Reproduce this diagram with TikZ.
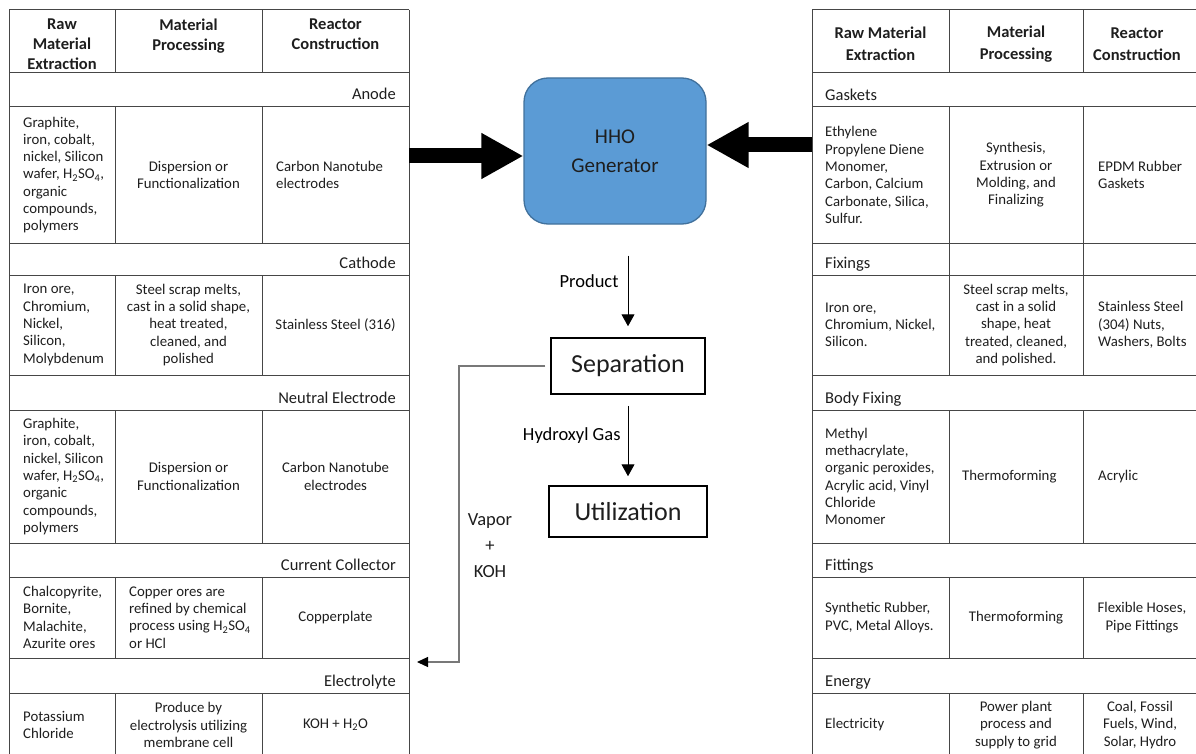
\documentclass[tikz,border=0pt]{standalone}
\usepackage{fontspec}
\setmainfont{Carlito}
\usetikzlibrary{arrows.meta,positioning}

\definecolor{hhoBlue}{RGB}{91,155,213}
\definecolor{hhoEdge}{RGB}{65,113,156}
\definecolor{tableLine}{RGB}{70,70,70}
\definecolor{textDark}{RGB}{30,30,30}
\definecolor{vaporGray}{RGB}{120,120,120}

\begin{document}
\begin{tikzpicture}[x=1pt, y=-1pt, text=textDark]
	\tikzstyle{gridLine} = [draw=tableLine, line width=1pt];
	\tikzstyle{cell} = [inner sep=0pt, font={\fontsize{14.8}{17.3}\selectfont}];
	\tikzstyle{cellLeft} = [cell, anchor=west, align=left];
	\tikzstyle{cellMid} = [cell, anchor=center, align=center];
	\tikzstyle{headLeft} = [inner sep=0pt, anchor=north, align=center, font={\bfseries\fontsize{16.5}{20}\selectfont}];
	\tikzstyle{headRight} = [inner sep=0pt, anchor=center, align=center, font={\bfseries\fontsize{16.5}{22}\selectfont}];
	\tikzstyle{rowTitle} = [inner sep=0pt, font={\fontsize{16.5}{18}\selectfont}];
	\tikzstyle{bigArrow} = [line width=15pt, -{Triangle[length=42pt, width=43pt]}];
	\tikzstyle{flowArrow} = [black, line width=1pt, -{Triangle[length=12pt, width=13pt]}];
	\tikzstyle{flowLabel} = [inner sep=0pt, font={\fontsize{18.5}{26}\selectfont}, align=center];
	\tikzstyle{stepBox} = [draw=black, line width=1.5pt, rectangle, inner sep=0pt, font={\fontsize{26}{30}\selectfont}];

	\useasboundingbox (0,0) rectangle (1196,754);

	% table rules
	\foreach \y in {10,73,107,243,275,375,410,543,577,658,693} {
		\draw[gridLine] (9,\y) -- (409,\y);
		\draw[gridLine] (812,\y) -- (1196,\y);
	}
	\draw[gridLine] (9,10) -- (9,754);
	\draw[gridLine] (409,10) -- (409,754);
	\draw[gridLine] (812,10) -- (812,754);
	\foreach \a/\b in {10/73,107/243,275/375,410/543,577/658,693/754} {
		\draw[gridLine] (115,\a) -- (115,\b);
		\draw[gridLine] (262,\a) -- (262,\b);
		\draw[gridLine] (949,\a) -- (949,\b);
		\draw[gridLine] (1083,\a) -- (1083,\b);
	}
	\draw[gridLine] (949,243) -- (949,275);
	\draw[gridLine] (1083,243) -- (1083,275);

	% left table
	\node[headLeft] (lHdRaw) at (62,19) {Raw\\Material\\Extraction};
	\node[headLeft] (lHdProc) at (188.5,19) {Material\\Processing};
	\node[headLeft] (lHdReac) at (335.5,19) {Reactor\\Construction};

	\node[rowTitle, anchor=base east] (anode) at (396,100) {Anode};
	\node[cellLeft] (anodeRaw) at (23,175) {Graphite,\\iron, cobalt,\\nickel, Silicon\\wafer, H\textsubscript{2}SO\textsubscript{4},\\organic\\compounds,\\polymers};
	\node[cellMid] (anodeProc) at (188.5,175) {Dispersion or\\Functionalization};
	\node[cellLeft] (anodeReac) at (276,175) {Carbon Nanotube\\electrodes};

	\node[rowTitle, anchor=base east] (cathode) at (396,268) {Cathode};
	\node[cellLeft] (cathodeRaw) at (23,325) {Iron ore,\\Chromium,\\Nickel,\\Silicon,\\Molybdenum};
	\node[cellMid] (cathodeProc) at (188.5,325) {Steel scrap melts,\\cast in a solid shape,\\heat treated,\\cleaned, and\\polished};
	\node[cellMid] (cathodeReac) at (335.5,325) {Stainless Steel (316)};

	\node[rowTitle, anchor=base east] (neutral) at (396,403) {Neutral Electrode};
	\node[cellLeft] (neutralRaw) at (23,476.5) {Graphite,\\iron, cobalt,\\nickel, Silicon\\wafer, H\textsubscript{2}SO\textsubscript{4},\\organic\\compounds,\\polymers};
	\node[cellMid] (neutralProc) at (188.5,476.5) {Dispersion or\\Functionalization};
	\node[cellMid] (neutralReac) at (335.5,476.5) {Carbon Nanotube\\electrodes};

	\node[rowTitle, anchor=base east] (collector) at (396,570) {Current Collector};
	\node[cellLeft] (collectorRaw) at (23,617.5) {Chalcopyrite,\\Bornite,\\Malachite,\\Azurite ores};
	\node[cellLeft] (collectorProc) at (129,617.5) {Copper ores are\\refined by chemical\\process using H\textsubscript{2}SO\textsubscript{4}\\or HCl};
	\node[cellMid] (collectorReac) at (335.5,617.5) {Copperplate};

	\node[rowTitle, anchor=base east] (electrolyte) at (396,686) {Electrolyte};
	\node[cellLeft] (electrolyteRaw) at (23,725) {Potassium\\Chloride};
	\node[cellMid] (electrolyteProc) at (188.5,725) {Produce by\\electrolysis utilizing\\membrane cell};
	\node[cellMid] (electrolyteReac) at (335.5,725) {KOH + H\textsubscript{2}O};

	% right table
	\node[headRight] (rHdRaw) at (880.5,44) {Raw Material\\Extraction};
	\node[headRight] (rHdProc) at (1016,44) {Material\\Processing};
	\node[headRight] (rHdReac) at (1137,44) {Reactor\\Construction};

	\node[rowTitle, anchor=base west] (gaskets) at (825,101) {Gaskets};
	\node[cellLeft] (gasketsRaw) at (825,175) {Ethylene\\Propylene Diene\\Monomer,\\Carbon, Calcium\\Carbonate, Silica,\\Sulfur.};
	\node[cellMid] (gasketsProc) at (1016,175) {Synthesis,\\Extrusion or\\Molding, and\\Finalizing};
	\node[cellLeft] (gasketsReac) at (1098,175) {EPDM Rubber\\Gaskets};

	\node[rowTitle, anchor=base west] (fixings) at (825,268) {Fixings};
	\node[cellLeft] (fixingsRaw) at (825,325) {Iron ore,\\Chromium, Nickel,\\Silicon.};
	\node[cellMid] (fixingsProc) at (1016,325) {Steel scrap melts,\\cast in a solid\\shape, heat\\treated, cleaned,\\and polished.};
	\node[cellLeft] (fixingsReac) at (1098,325) {Stainless Steel\\(304) Nuts,\\Washers, Bolts};

	\node[rowTitle, anchor=base west] (body) at (825,403) {Body Fixing};
	\node[cellLeft] (bodyRaw) at (825,476.5) {Methyl\\methacrylate,\\organic peroxides,\\Acrylic acid, Vinyl\\Chloride\\Monomer};
	\node[cellLeft] (bodyProc) at (962,476.5) {Thermoforming};
	\node[cellLeft] (bodyReac) at (1098,476.5) {Acrylic};

	\node[rowTitle, anchor=base west] (fittings) at (825,570) {Fittings};
	\node[cellLeft] (fittingsRaw) at (825,617.5) {Synthetic Rubber,\\PVC, Metal Alloys.};
	\node[cellMid] (fittingsProc) at (1016,617.5) {Thermoforming};
	\node[cellMid] (fittingsReac) at (1142,617.5) {Flexible Hoses,\\Pipe Fittings};

	\node[rowTitle, anchor=base west] (energy) at (825,686) {Energy};
	\node[cellLeft] (energyRaw) at (825,725) {Electricity};
	\node[cellMid] (energyProc) at (1016,725) {Power plant\\process and\\supply to grid};
	\node[cellMid] (energyReac) at (1140,725) {Coal, Fossil\\Fuels, Wind,\\Solar, Hydro};

	% process chain
	\node[draw=hhoEdge, fill=hhoBlue, line width=1.3pt, rounded corners=24pt, minimum width=182pt, minimum height=146pt, inner sep=0pt, align=center, font={\fontsize{21}{29}\selectfont}] (gen) at (615,151) {HHO\\Generator};
	\node[stepBox, minimum width=154pt, minimum height=56pt] (sep) at (628,366) {Separation};
	\node[stepBox, minimum width=158pt, minimum height=51pt] (util) at (628,511.5) {Utilization};

	\coordinate (leftFeed) at (409,156);
	\coordinate (rightFeed) at (812,145);
	\coordinate (vaporTurn) at (459,662);
	\coordinate (elecIn) at (417,662);

	\draw[bigArrow] (leftFeed) -- (leftFeed -| gen.west);
	\draw[bigArrow] (rightFeed) -- (rightFeed -| gen.east);

	\draw[flowArrow, shorten <=31pt, shorten >=11pt] (gen.south -| sep.north) -- node[flowLabel, pos=0.5, left=9pt] {Product} (sep.north);
	\draw[flowArrow, shorten <=11pt, shorten >=9pt] (sep.south) -- node[flowLabel, pos=0.45, left=7pt] {Hydroxyl Gas} (util.north);
	\draw[draw=vaporGray, line width=1.2pt, -{Triangle[length=11pt, width=10pt, fill=black, color=black]}, shorten <=5pt] (sep.west) -| (vaporTurn) -- (elecIn);
	\node[flowLabel] (vaporLbl) at (490,546) {Vapor\\+\\KOH};
\end{tikzpicture}
\end{document}
